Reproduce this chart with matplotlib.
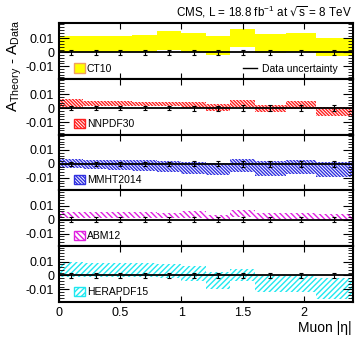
import numpy as np
import matplotlib
matplotlib.use("Agg")
import matplotlib.pyplot as plt
from matplotlib.patches import Patch
from matplotlib.lines import Line2D

plt.rcParams['font.family'] = ['Liberation Sans', 'DejaVu Sans']
plt.rcParams['mathtext.default'] = 'regular'
plt.rcParams['hatch.linewidth'] = 1.0

# bins in muon |eta|
edges = [0, 0.2, 0.4, 0.6, 0.8, 1.0, 1.2, 1.4, 1.6, 1.85, 2.1, 2.4]
data_err = [0.0017, 0.0017, 0.0017, 0.0017, 0.0017, 0.0018, 0.0018, 0.0019, 0.0019, 0.0019, 0.002]

pdf_names = ["CT10", "NNPDF30", "MMHT2014", "ABM12", "HERAPDF15"]

ct10_hi = [0.0116, 0.0116, 0.0116, 0.0126, 0.015, 0.014, 0.0116, 0.0169, 0.0133, 0.014, 0.0104]
ct10_lo = [0.0003, 0.0003, 0.0003, 0.0003, 0.002, 0.0005, -0.0017, 0.0036, -0.0005, 0.0, -0.0024]

nnpdf_hi = [0.0065, 0.0053, 0.0048, 0.0046, 0.0045, 0.0045, 0.0027, 0.0058, 0.0022, 0.0048, 0.0005]
nnpdf_lo = [0.001, 0.0017, 0.0016, 0.0015, 0.0012, 0.0, -0.0024, 0.0005, -0.003, -0.001, -0.006]

mmht_hi = [0.0036, 0.003, 0.003, 0.0025, 0.0022, 0.0015, 0.0005, 0.0038, 0.002, 0.003, 0.0015]
mmht_lo = [-0.003, -0.0038, -0.0045, -0.0052, -0.006, -0.007, -0.008, -0.0058, -0.0087, -0.007, -0.0094]

abm_hi = [0.0055, 0.0053, 0.0052, 0.0052, 0.005, 0.006, 0.0036, 0.0073, 0.005, 0.005, 0.004]
abm_lo = [0.0012, 0.0012, 0.0012, 0.0012, 0.0012, 0.0012, -0.0005, 0.0019, 0.0005, 0.0005, -0.0005]

hera_hi = [0.0097, 0.0092, 0.009, 0.0088, 0.0085, 0.007, 0.0024, 0.005, -0.0007, -0.0007, -0.0017]
hera_lo = [-0.001, -0.001, -0.0012, -0.0012, -0.0015, -0.004, -0.0097, -0.0036, -0.0116, -0.0116, -0.0169]

bands = [(ct10_lo, ct10_hi), (nnpdf_lo, nnpdf_hi), (mmht_lo, mmht_hi),
         (abm_lo, abm_hi), (hera_lo, hera_hi)]
colors = ['#ffff00', '#ff2020', '#3030e0', '#e020e0', '#20e8f0']
hatches = [None, '\\' * 10, '\\' * 10, '\\' * 6, '/' * 6]

ytick_vals = [-0.01, 0, 0.01]
ytick_labels = ['-0.01', '0', '0.01']
xtick_vals = [0, 0.5, 1, 1.5, 2]
xtick_labels = ['0', '0.5', '1', '1.5', '2']

fig, axes = plt.subplots(5, 1, figsize=(3.55, 3.37), dpi=100, sharex=True)
fig.subplots_adjust(left=0.166, right=0.994, top=1 - 23 / 337, bottom=1 - 302 / 337, hspace=0)

e = np.array(edges)
centers = (e[:-1] + e[1:]) / 2
widths = np.diff(e)

for i, ax in enumerate(axes):
    lo = np.array(bands[i][0])
    hi = np.array(bands[i][1])
    if hatches[i] is None:
        ax.bar(e[:-1], hi - lo, width=widths, bottom=lo, align='edge',
               color=colors[i], linewidth=0, zorder=1)
        handle = Patch(facecolor=colors[i], edgecolor='#f0a060', linewidth=1.0)
    else:
        ax.bar(e[:-1], hi - lo, width=widths, bottom=lo, align='edge',
               facecolor='none', edgecolor=colors[i], hatch=hatches[i],
               linewidth=0, zorder=1)
        handle = Patch(facecolor='white', edgecolor=colors[i], hatch=hatches[i], linewidth=1.0)

    ax.axhline(0, color='black', lw=1.3, zorder=3)
    ax.errorbar(centers, np.zeros(len(centers)), yerr=data_err, fmt='none',
                ecolor='black', elinewidth=0.8, capsize=1.5, capthick=0.8, zorder=4)

    ax.set_xlim(0, 2.4)
    ax.set_ylim(-0.019, 0.021)
    ax.set_yticks(ytick_vals)
    ax.set_yticklabels(ytick_labels, fontsize=9)
    ax.set_yticks(np.arange(-0.018, 0.021, 0.002), minor=True)
    ax.set_xticks(xtick_vals)
    ax.tick_params(which='both', direction='in', right=True, top=True)
    ax.tick_params(which='major', axis='y', length=7, width=0.8)
    ax.tick_params(which='minor', axis='y', length=3.5, width=0.6)
    ax.tick_params(which='major', axis='x', length=4, width=0.8, labelsize=9)
    for sp in ax.spines.values():
        sp.set_linewidth(1.5)

    leg = ax.legend([handle], [pdf_names[i]], loc='lower left', frameon=False,
                    fontsize=7.5, handlelength=1.0, handleheight=1.0,
                    handletextpad=0.2, borderaxespad=0.1,
                    bbox_to_anchor=(0.035, 0.0))
    if i == 0:
        ax.add_artist(leg)
        ax.legend([Line2D([0], [0], color='black', lw=1.0)], ['Data uncertainty'],
                  loc='lower right', frameon=False, fontsize=7.5, handlelength=1.4,
                  handletextpad=0.4, borderaxespad=0.1, bbox_to_anchor=(0.965, 0.0))

axes[-1].set_xticklabels(xtick_labels)

fig.text(0.99, 1 - 12 / 337, r'CMS, L = 18.8 fb$^{-1}$ at $\sqrt{s}$ = 8 TeV',
         ha='right', va='center', fontsize=8.4)
fig.text(0.042, 1 - 20 / 337, r'A$_{Theory}$ - A$_{Data}$', rotation=90,
         ha='center', va='top', fontsize=11)
fig.text(0.99, 1 - 328 / 337, 'Muon |η|', ha='right', va='center', fontsize=10)

fig.savefig('out.png', dpi=100)
